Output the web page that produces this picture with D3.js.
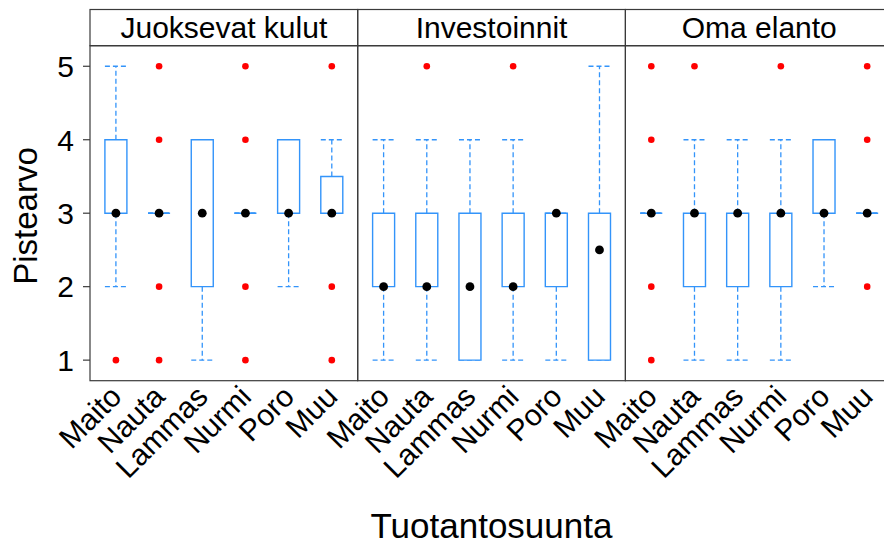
<!DOCTYPE html>
<html>
<head>
<meta charset="utf-8">
<script src="https://cdn.jsdelivr.net/npm/d3@7/dist/d3.min.js"></script>
<style>
  html, body { margin: 0; padding: 0; background: #fff; }
  text { font-family: "Liberation Sans", Arial, Helvetica, sans-serif; fill: #000; }
</style>
</head>
<body>
<svg id="chart" width="884" height="545"></svg>
<script>
// ---- data ----
const categories = ["Maito", "Nauta", "Lammas", "Nurmi", "Poro", "Muu"];
const panels = ["Juoksevat kulut", "Investoinnit", "Oma elanto"];
const yTicks = [1, 2, 3, 4, 5];

// per panel, per category
const whiskerLow = [
  [2, 3, 1, 3, 2, 3],
  [1, 1, 1, 1, 1, 1],
  [3, 1, 1, 1, 2, 3]
];
const q1 = [
  [3, 3, 2, 3, 3, 3],
  [2, 2, 1, 2, 2, 1],
  [3, 2, 2, 2, 3, 3]
];
const medians = [
  [3, 3, 3, 3, 3, 3],
  [2, 2, 2, 2, 3, 2.5],
  [3, 3, 3, 3, 3, 3]
];
const q3 = [
  [4, 3, 4, 3, 4, 3.5],
  [3, 3, 3, 3, 3, 3],
  [3, 3, 3, 3, 4, 3]
];
const whiskerHigh = [
  [5, 3, 4, 3, 4, 4],
  [4, 4, 4, 4, 3, 5],
  [3, 4, 4, 4, 4, 3]
];
const outliers = [
  [[1], [1, 2, 4, 5], [], [1, 2, 4, 5], [], [1, 2, 5]],
  [[], [5], [], [5], [], []],
  [[1, 2, 4, 5], [5], [], [5], [], [2, 4, 5]]
];

// ---- layout ----
const svg = d3.select("#chart");
const left = 90, panelW = 267.7;
const stripTop = 9.5, stripBottom = 45.7, panelBottom = 380.7;
const blue = "#3394fa";
const frame = "#3a3a3a";

const y = d3.scaleLinear().domain([0.72, 5.28]).range([panelBottom, stripBottom]);
const boxHalf = 11;

panels.forEach((pname, p) => {
  const x0 = left + p * panelW;
  const x = d3.scaleLinear().domain([0.4, 6.6]).range([x0, x0 + panelW]);
  const g = svg.append("g");

  // strip
  g.append("rect").attr("x", x0).attr("y", stripTop).attr("width", panelW)
    .attr("height", stripBottom - stripTop).attr("fill", "none")
    .attr("stroke", frame).attr("stroke-width", 1.2);
  g.append("text").attr("x", x0 + panelW / 2).attr("y", 38.3)
    .attr("text-anchor", "middle").style("font-size", "30px").text(pname);

  // panel frame
  g.append("rect").attr("x", x0).attr("y", stripBottom).attr("width", panelW)
    .attr("height", panelBottom - stripBottom).attr("fill", "none")
    .attr("stroke", frame).attr("stroke-width", 1.2);

  categories.forEach((c, i) => {
    const cx = x(i + 1);
    const lo = whiskerLow[p][i], hi = whiskerHigh[p][i];
    const b1 = q1[p][i], b3 = q3[p][i], med = medians[p][i];

    // whiskers
    const dash = "5,3";
    [[b3, hi], [b1, lo]].forEach(([from, to]) => {
      g.append("line").attr("x1", cx).attr("x2", cx)
        .attr("y1", y(from)).attr("y2", y(to))
        .attr("stroke", blue).attr("stroke-width", 1.3).attr("stroke-dasharray", dash);
      g.append("line").attr("x1", cx - boxHalf).attr("x2", cx + boxHalf)
        .attr("y1", y(to)).attr("y2", y(to))
        .attr("stroke", blue).attr("stroke-width", 1.3).attr("stroke-dasharray", dash);
    });

    // box
    const xa = cx - boxHalf, xb = cx + boxHalf;
    g.append("path")
      .attr("d", `M${xa},${y(b1)}H${xb}V${y(b3)}H${xa}Z`)
      .attr("fill", b1 === b3 ? "none" : "#fff")
      .attr("stroke", blue).attr("stroke-width", 1.4);

    // outliers
    outliers[p][i].forEach(v => {
      g.append("circle").attr("cx", cx).attr("cy", y(v)).attr("r", 3.3).attr("fill", "#ff0000");
    });

    // median dot
    g.append("circle").attr("cx", cx).attr("cy", y(med)).attr("r", 4.4).attr("fill", "#000");

    // x tick label
    g.append("text")
      .attr("transform", `translate(${cx},391) rotate(-45)`)
      .attr("text-anchor", "end").attr("dy", "0.35em")
      .style("font-size", "30px").text(c);
  });
});

// y axis ticks on the left panel
const ya = svg.append("g");
yTicks.forEach(t => {
  ya.append("line").attr("x1", left - 7).attr("x2", left)
    .attr("y1", y(t)).attr("y2", y(t)).attr("stroke", frame).attr("stroke-width", 1.2);
  ya.append("text").attr("x", 74).attr("y", y(t)).attr("dy", "0.36em")
    .attr("text-anchor", "end").style("font-size", "30px").text(t);
});

// axis titles
svg.append("text").attr("transform", "translate(37,216) rotate(-90)")
  .attr("text-anchor", "middle").style("font-size", "33px").text("Pistearvo");
svg.append("text").attr("x", 491.5).attr("y", 538)
  .attr("text-anchor", "middle").style("font-size", "35px").text("Tuotantosuunta");
</script>
</body>
</html>
